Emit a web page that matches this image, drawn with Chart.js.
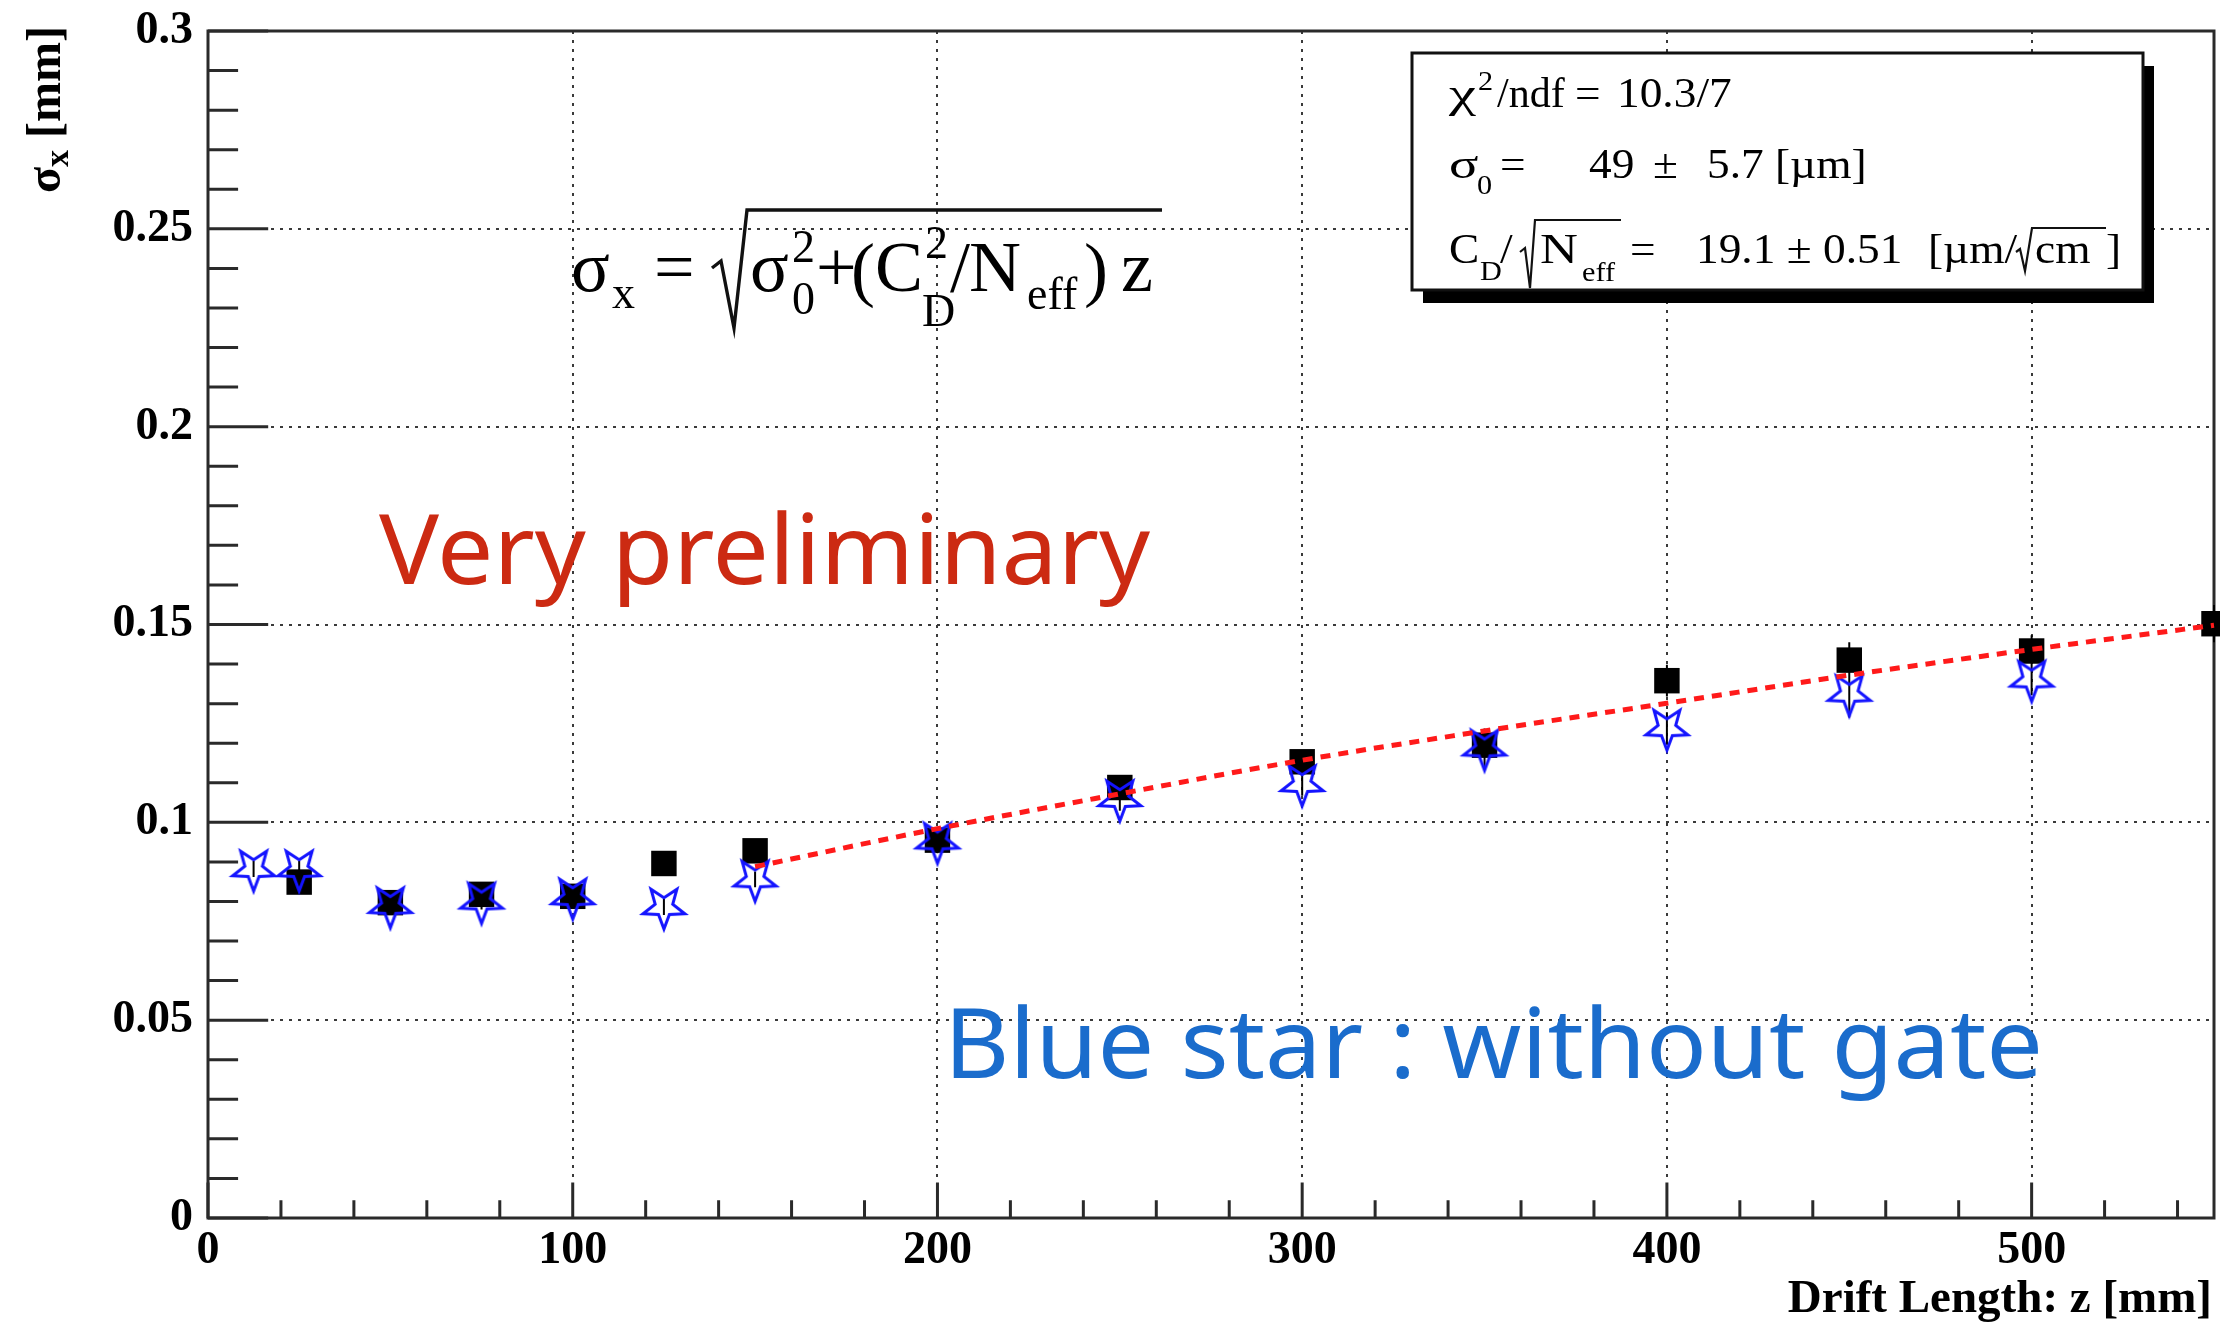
<!DOCTYPE html>
<html>
<head>
<meta charset="utf-8">
<script src="https://cdn.jsdelivr.net/npm/chart.js@4/dist/chart.umd.min.js"></script>
<style>
html,body{margin:0;padding:0;background:#fff;}
canvas{display:block;}
</style>
</head>
<body>
<canvas id="c" width="2220" height="1322" style="width:2220px;height:1322px"></canvas>
<script>
// ---------- data ----------
const xTickValues = [0, 100, 200, 300, 400, 500];
const xTickLabels = ['0', '100', '200', '300', '400', '500'];
const yTickValues = [0, 0.05, 0.1, 0.15, 0.2, 0.25, 0.3];
const yTickLabels = ['0', '0.05', '0.1', '0.15', '0.2', '0.25', '0.3'];
const xMinorStep = 20;
const yMinorStep = 0.01;

// black squares (with gate)
const driftWithGate = [25, 50, 75, 100, 125, 150, 200, 250, 300, 350, 400, 450, 500, 550];
const sigmaWithGate = [0.0849, 0.0797, 0.0818, 0.0813, 0.0896, 0.0928, 0.0955, 0.1088, 0.1153, 0.1195, 0.1358, 0.1410, 0.1433, 0.1502];
const errWithGate   = [0.002, 0.002, 0.002, 0.002, 0.002, 0.002, 0.002, 0.003, 0.003, 0.003, 0.004, 0.0045, 0.004, 0.0047];

// blue open stars (without gate)
const driftNoGate = [12.5, 25, 50, 75, 100, 125, 150, 200, 250, 300, 350, 400, 450, 500];
const sigmaNoGate = [0.0882, 0.0882, 0.0789, 0.0800, 0.0811, 0.0786, 0.0856, 0.0952, 0.1059, 0.1097, 0.1187, 0.1238, 0.1325, 0.1361];
const errNoGate   = [0.002, 0.002, 0.002, 0.002, 0.002, 0.002, 0.002, 0.003, 0.003, 0.003, 0.005, 0.004, 0.006, 0.004];

// red dotted fit curve
const driftFit = [150, 200, 250, 300, 350, 400, 450, 500, 550];
const sigmaFit = [0.0888, 0.0984, 0.1072, 0.1157, 0.1231, 0.1301, 0.1372, 0.1437, 0.1498];

// ---------- helpers ----------
const toPts = (xs, ys) => xs.map((v, i) => ({x: v, y: ys[i]}));

function makeStar(R, color, lw) {
  const s = Math.ceil(2 * R + 2 * lw + 4);
  const c = document.createElement('canvas');
  c.width = s; c.height = s;
  const g = c.getContext('2d');
  const cx = s / 2, cy = s / 2, r = R * 0.42;
  g.beginPath();
  for (let i = 0; i < 10; i++) {
    const ang = Math.PI / 2 + i * Math.PI / 5;   // first tip points down
    const rad = (i % 2 === 0) ? R : r;
    const px = cx + rad * Math.cos(ang), py = cy + rad * Math.sin(ang);
    if (i === 0) g.moveTo(px, py); else g.lineTo(px, py);
  }
  g.closePath();
  g.strokeStyle = color; g.lineWidth = lw; g.lineJoin = 'miter';
  g.stroke();
  return c;
}
const starImg = makeStar(22, '#1414ff', 3);

function txt(ctx, t, x, y, font, sx) {
  ctx.save();
  ctx.font = font;
  ctx.translate(x, y);
  ctx.scale(sx || 1, 1);
  ctx.fillText(t, 0, 0);
  ctx.restore();
}
function radical(ctx, pts, lw) {
  ctx.save();
  ctx.lineWidth = lw; ctx.strokeStyle = '#111'; ctx.lineJoin = 'miter';
  ctx.beginPath();
  pts.forEach((p, i) => i ? ctx.lineTo(p[0], p[1]) : ctx.moveTo(p[0], p[1]));
  ctx.stroke();
  ctx.restore();
}
function frameOf(chart) {
  const {x, y} = chart.scales;
  return {
    left: x.getPixelForValue(x.min), right: x.getPixelForValue(x.max),
    top: y.getPixelForValue(y.max), bottom: y.getPixelForValue(y.min)
  };
}

// ---------- plugins ----------
const axisDecor = {
  id: 'axisDecor',
  beforeDatasetsDraw(chart) {
    const {ctx, scales: {x, y}} = chart;
    const a = frameOf(chart);
    const w = a.right - a.left, h = a.bottom - a.top;
    ctx.save();
    ctx.strokeStyle = '#2a2a2a';
    ctx.lineWidth = 3;
    ctx.beginPath();
    const ny = Math.round((y.max - y.min) / yMinorStep);
    for (let k = 0; k <= ny; k++) {
      const py = y.getPixelForValue(k * yMinorStep);
      const len = (k % 5 === 0) ? 0.03 * w : 0.015 * w;
      ctx.moveTo(a.left, py); ctx.lineTo(a.left + len, py);
    }
    const nx = Math.floor((x.max - x.min) / xMinorStep);
    for (let k = 0; k <= nx; k++) {
      const px = x.getPixelForValue(k * xMinorStep);
      const len = (k % 5 === 0) ? 0.03 * h : 0.015 * h;
      ctx.moveTo(px, a.bottom); ctx.lineTo(px, a.bottom - len);
    }
    ctx.stroke();
    ctx.strokeRect(a.left, a.top, w, h);
    ctx.restore();
  }
};

const errorBars = {
  id: 'errorBars',
  beforeDatasetsDraw(chart) {
    const {ctx, scales: {x, y}} = chart;
    ctx.save();
    ctx.strokeStyle = '#000';
    ctx.lineWidth = 2;
    ctx.beginPath();
    const draw = (xs, ys, es) => xs.forEach((v, i) => {
      const px = x.getPixelForValue(v);
      ctx.moveTo(px, y.getPixelForValue(ys[i] - es[i]));
      ctx.lineTo(px, y.getPixelForValue(ys[i] + es[i]));
    });
    draw(driftWithGate, sigmaWithGate, errWithGate);
    draw(driftNoGate, sigmaNoGate, errNoGate);
    ctx.stroke();
    ctx.restore();
  }
};

const annotations = {
  id: 'annotations',
  afterDraw(chart) {
    const ctx = chart.ctx;
    ctx.save();
    ctx.fillStyle = '#000';
    ctx.textBaseline = 'alphabetic';
    ctx.textAlign = 'left';
    const serif = 'Liberation Serif';

    // axis titles
    ctx.save();
    ctx.translate(60, 193);
    ctx.rotate(-Math.PI / 2);
    txt(ctx, 'σ', 0, 0, 'bold 48px "' + serif + '"');
    ctx.font = 'bold 48px "' + serif + '"';
    const ws = ctx.measureText('σ').width;
    txt(ctx, 'x', ws, 8, 'bold 34px "' + serif + '"');
    ctx.font = 'bold 34px "' + serif + '"';
    const wx = ctx.measureText('x').width;
    txt(ctx, ' [mm]', ws + wx, 0, 'bold 48px "' + serif + '"');
    ctx.restore();

    ctx.save();
    ctx.textAlign = 'right';
    txt(ctx, 'Drift Length: z [mm]', 2212, 1312, 'bold 47px "' + serif + '"');
    ctx.restore();

    // formula
    const F = '72px "' + serif + '"', S = '46px "' + serif + '"';
    txt(ctx, 'σ', 571, 291, F);
    txt(ctx, 'x', 612, 308, S);
    txt(ctx, '=', 654, 291, F);
    radical(ctx, [[712, 268], [721, 261], [734, 328], [747, 210], [1162, 210]], 3.4);
    txt(ctx, 'σ', 750, 291, F);
    txt(ctx, '2', 792, 262, S);
    txt(ctx, '0', 792, 314, S);
    txt(ctx, '+', 816, 291, F);
    txt(ctx, '(', 851, 293, F);
    txt(ctx, 'C', 875, 291, F);
    txt(ctx, '2', 925, 258, S);
    txt(ctx, 'D', 922, 326, S);
    txt(ctx, '/', 950, 291, F);
    txt(ctx, 'N', 969, 291, F);
    txt(ctx, 'eff', 1027, 309, S);
    txt(ctx, ')', 1084, 293, F);
    txt(ctx, 'z', 1121, 291, F);

    // stats box
    const bx = 1412, by = 53, bw = 731, bh = 237;
    ctx.fillStyle = '#000';
    ctx.fillRect(bx + 11, by + 13, bw, bh);
    ctx.fillStyle = '#fff';
    ctx.fillRect(bx, by, bw, bh);
    ctx.strokeStyle = '#111';
    ctx.lineWidth = 3;
    ctx.strokeRect(bx, by, bw, bh);
    ctx.fillStyle = '#000';
    const B = '42px "' + serif + '"', b = '28px "' + serif + '"', k = 1.08;
    // line 1
    txt(ctx, 'χ', 1449, 107, B, 1.45);
    txt(ctx, '2', 1478, 90, b, k);
    txt(ctx, '/ndf', 1497, 107, B, 1.0);
    txt(ctx, '=', 1575, 107, B, k);
    txt(ctx, '10.3/7', 1617, 107, B, k);
    // line 2
    txt(ctx, 'σ', 1449, 178, B, 1.3);
    txt(ctx, '0', 1477, 194, b, k);
    txt(ctx, '=', 1500, 178, B, k);
    txt(ctx, '49', 1589, 178, B, k);
    txt(ctx, '±', 1653, 178, B, k);
    txt(ctx, '5.7', 1707, 178, B, k);
    txt(ctx, '[µm]', 1775, 178, B, k);
    // line 3
    txt(ctx, 'C', 1449, 263, B, k);
    txt(ctx, 'D', 1480, 280, b, k);
    txt(ctx, '/', 1500, 263, B, k);
    radical(ctx, [[1520, 252], [1525, 248], [1530, 288], [1535, 220], [1621, 220]], 2.2);
    txt(ctx, 'N', 1540, 263, B, 1.25);
    txt(ctx, 'eff', 1582, 281, b, k);
    txt(ctx, '=', 1630, 263, B, k);
    txt(ctx, '19.1 ± 0.51', 1696, 263, B, k);
    txt(ctx, '[µm/', 1928, 263, B, k);
    radical(ctx, [[2016, 252], [2020, 249], [2025, 271], [2032, 228], [2106, 228]], 2.2);
    txt(ctx, 'cm', 2035, 263, B, k);
    txt(ctx, ']', 2106, 263, B, k);

    // coloured notes
    const sans = '"Noto Sans"';
    ctx.font = '96px ' + sans;
    let w1 = ctx.measureText('Very preliminary').width;
    ctx.fillStyle = '#cc2a12';
    txt(ctx, 'Very preliminary', 379, 584, '96px ' + sans, 771 / w1);
    ctx.font = '96px ' + sans;
    let w2 = ctx.measureText('Blue star : without gate').width;
    ctx.fillStyle = '#1a6ccc';
    txt(ctx, 'Blue star : without gate', 944, 1078, '96px ' + sans, 1099 / w2);
    ctx.restore();
  }
};

// ---------- chart ----------
const tickFont = {family: 'Liberation Serif', weight: 'bold', size: 46};
const gridCommon = {color: '#3a3a3a', lineWidth: 2, drawTicks: false};
const zeroPad = s => { s.paddingLeft = 0; s.paddingRight = 0; s.paddingTop = 0; s.paddingBottom = 0; };

new Chart(document.getElementById('c'), {
  type: 'scatter',
  data: {
    datasets: [
      {
        type: 'line',
        label: 'fit',
        data: toPts(driftFit, sigmaFit),
        showLine: true,
        borderColor: '#ff1a1a',
        borderWidth: 5,
        borderDash: [10, 8],
        cubicInterpolationMode: 'monotone',
        pointRadius: 0,
        fill: false,
        order: 0,
        clip: false
      },
      {
        label: 'without gate',
        data: toPts(driftNoGate, sigmaNoGate),
        pointStyle: starImg,
        pointRadius: 22,
        order: 1,
        clip: false
      },
      {
        label: 'with gate',
        data: toPts(driftWithGate, sigmaWithGate),
        pointStyle: 'rect',
        pointRadius: 18,
        backgroundColor: '#000',
        borderColor: '#000',
        borderWidth: 0,
        order: 2,
        clip: false
      }
    ]
  },
  options: {
    responsive: false,
    devicePixelRatio: 1,
    animation: false,
    events: [],
    layout: {autoPadding: false, padding: {top: 31, right: 6, left: 0, bottom: 0}},
    plugins: {legend: {display: false}, tooltip: {enabled: false}},
    scales: {
      x: {
        type: 'linear', min: 0, max: 550,
        afterBuildTicks: s => { s.ticks = xTickValues.map(v => ({value: v})); },
        afterFit: s => { s.height = 104; zeroPad(s); },
        ticks: {
          callback: v => xTickLabels[xTickValues.indexOf(v)],
          font: tickFont, color: '#000', padding: 6, maxRotation: 0, autoSkip: false
        },
        grid: gridCommon,
        border: {display: false, dash: [3, 6]}
      },
      y: {
        type: 'linear', min: 0, max: 0.3,
        afterBuildTicks: s => { s.ticks = yTickValues.map(v => ({value: v})); },
        afterFit: s => { s.width = 208; zeroPad(s); },
        ticks: {
          callback: v => yTickLabels[yTickValues.findIndex(t => Math.abs(t - v) < 1e-9)],
          font: tickFont, color: '#000', padding: 15, autoSkip: false
        },
        grid: gridCommon,
        border: {display: false, dash: [3, 6]}
      }
    }
  },
  plugins: [axisDecor, errorBars, annotations]
});
</script>
</body>
</html>
